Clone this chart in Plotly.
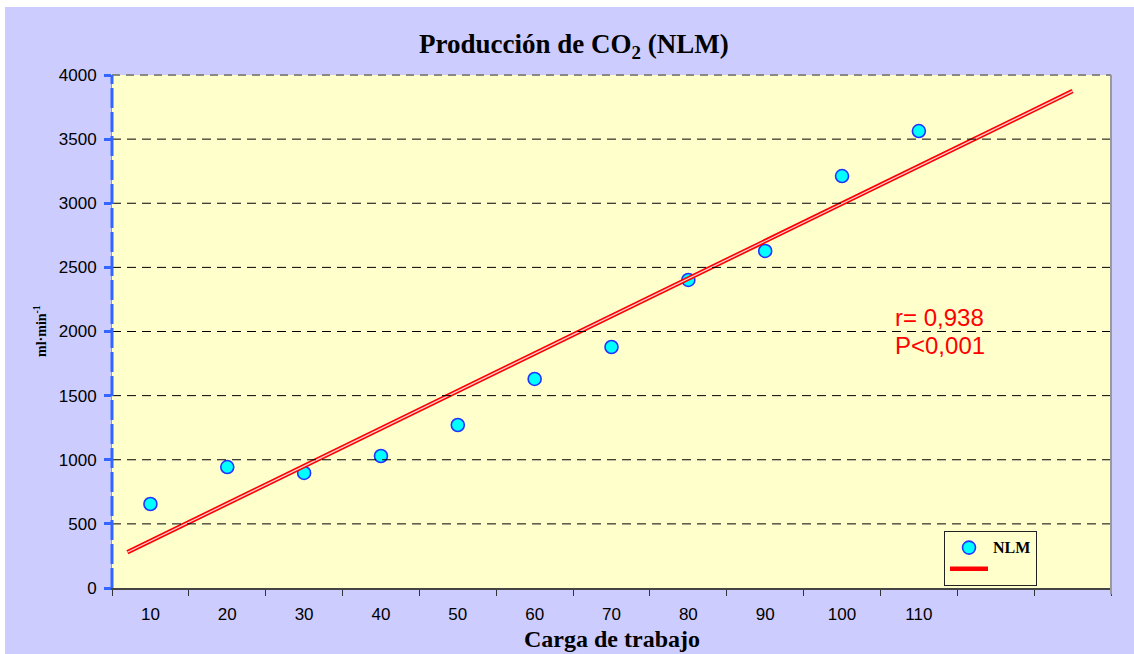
import numpy as np
import plotly.graph_objects as go

# Workload categories and CO2 production (ml·min-1)
carga = ["10", "20", "30", "40", "50", "60", "70", "80", "90", "100", "110"]
vco2 = [655, 943, 897, 1029, 1271, 1630, 1879, 2402, 2628, 3212, 3563]
n_slots = 13                      # category slots on the axis (two empty at the end)
y_ticks = [0, 500, 1000, 1500, 2000, 2500, 3000, 3500, 4000]
trend_from, trend_to = 0.7, 13.0  # linear trend extent (backward/forward forecast)
r_text = "r= 0,938"
p_text = "P&lt;0,001"

W, H = 1134, 654
L, R, T, B = 112, 23, 75, 66

idx = np.arange(1, len(vco2) + 1)
slope, intercept = np.polyfit(idx, vco2, 1)
tx = np.array([trend_from, trend_to])
ty = slope * tx + intercept

LAV = "#CCCCFF"
PLOT_BG = "#FFFFCC"
SERIF = "Liberation Serif"
SANS = "Liberation Sans"

fig = go.Figure()

fig.add_trace(go.Scatter(
    x=idx, y=vco2, mode="markers",
    name="<b><span style='font-size:16px'>NLM</span></b>",
    marker=dict(symbol="circle", size=13, color="#00FFFF",
                line=dict(color="#2233FF", width=1.6)),
))
fig.add_trace(go.Scatter(
    x=tx, y=ty, mode="lines", name=" ",
    line=dict(color="#FF0000", width=4.5),
))
fig.add_trace(go.Scatter(
    x=tx, y=ty, mode="lines", showlegend=False, hoverinfo="skip",
    line=dict(color="#FFD0D0", width=1.3),
))

shapes = []
# dashed horizontal gridlines
for v in y_ticks[1:-1]:
    shapes.append(dict(type="line", xref="paper", yref="y", x0=0, x1=1, y0=v, y1=v,
                       line=dict(color="black", width=1, dash="9px,6px"), layer="above"))
# top border (gray dashed) and right border (gray solid)
shapes.append(dict(type="line", xref="paper", yref="paper", x0=0, x1=1, y0=1, y1=1,
                   line=dict(color="#888888", width=2, dash="8px,6px")))
shapes.append(dict(type="line", xref="paper", yref="paper", x0=1, x1=1, y0=-0.012, y1=1,
                   line=dict(color="#999999", width=2)))
# dashed blue value axis
shapes.append(dict(type="line", xref="paper", yref="paper", x0=0, x1=0, y0=0, y1=1,
                   line=dict(color="#3366FF", width=3, dash="20px,4px")))
# white strips at the top and left edges of the page
shapes.append(dict(type="rect", xref="paper", yref="paper",
                   x0=-L / (W - L - R), x1=1 + R / (W - L - R) + 0.01,
                   y0=(588 - 7) / 513, y1=(588 + 2) / 513,
                   fillcolor="white", line=dict(width=0), layer="below"))
shapes.append(dict(type="rect", xref="paper", yref="paper",
                   x0=-L / (W - L - R) - 0.01, x1=(5 - L) / (W - L - R),
                   y0=-B / 513 - 0.01, y1=(588 + 2) / 513,
                   fillcolor="white", line=dict(width=0), layer="below"))

pw = W - L - R
ph = H - T - B
annotations = [
    dict(text="<b>Producción de CO<sub>2</sub> (NLM)</b>", xref="paper", yref="paper",
         x=(574 - L) / pw, y=(588 - 46) / ph, showarrow=False,
         font=dict(family=SERIF, size=27, color="black"), xanchor="center", yanchor="middle"),
    dict(text="<b>Carga de trabajo</b>", xref="paper", yref="paper",
         x=(612 - L) / pw, y=(588 - 639) / ph, showarrow=False,
         font=dict(family=SERIF, size=24, color="black"), xanchor="center", yanchor="middle"),
    dict(text="<b>ml·min<sup>-1</sup></b>", xref="paper", yref="paper",
         x=(40 - L) / pw, y=(588 - 331) / ph, showarrow=False, textangle=-90,
         font=dict(family=SERIF, size=14, color="black"), xanchor="center", yanchor="middle"),
    dict(text=r_text, xref="paper", yref="paper",
         x=(893 - L) / pw, y=(588 - 317) / ph, showarrow=False,
         font=dict(family=SANS, size=24, color="#FF0000"), xanchor="left", yanchor="middle"),
    dict(text=p_text, xref="paper", yref="paper",
         x=(893 - L) / pw, y=(588 - 345) / ph, showarrow=False,
         font=dict(family=SANS, size=24, color="#FF0000"), xanchor="left", yanchor="middle"),
]

fig.update_layout(
    width=W, height=H,
    margin=dict(l=L, r=R, t=T, b=B),
    paper_bgcolor=LAV, plot_bgcolor=PLOT_BG,
    shapes=shapes, annotations=annotations,
    showlegend=True,
    legend=dict(x=(944 - L) / pw, y=(588 - 531) / ph, xanchor="left", yanchor="top",
                bgcolor=PLOT_BG, bordercolor="#222222", borderwidth=1,
                font=dict(family=SERIF, size=14, color="black"),
                itemwidth=38),
    xaxis=dict(
        range=[0.5, n_slots + 0.5],
        tickmode="array", tickvals=list(idx), ticktext=carga,
        ticks="", ticklabelstandoff=10,
        tickfont=dict(family=SANS, size=17, color="black"),
        showgrid=False, zeroline=False,
        showline=True, linecolor="#444444", linewidth=1.5,
        minor=dict(tickmode="linear", tick0=0.5, dtick=1, ticks="outside",
                   ticklen=6, tickwidth=1.3, tickcolor="#333333", showgrid=False),
    ),
    yaxis=dict(
        range=[0, 4000],
        tickmode="array", tickvals=y_ticks,
        ticks="outside", ticklen=7, tickwidth=3, tickcolor="#3366FF",
        ticklabelstandoff=4,
        tickfont=dict(family=SANS, size=17, color="black"),
        showgrid=False, zeroline=False,
        showline=True, linecolor="#999999", linewidth=1,
    ),
)

fig.write_html("out.html")
